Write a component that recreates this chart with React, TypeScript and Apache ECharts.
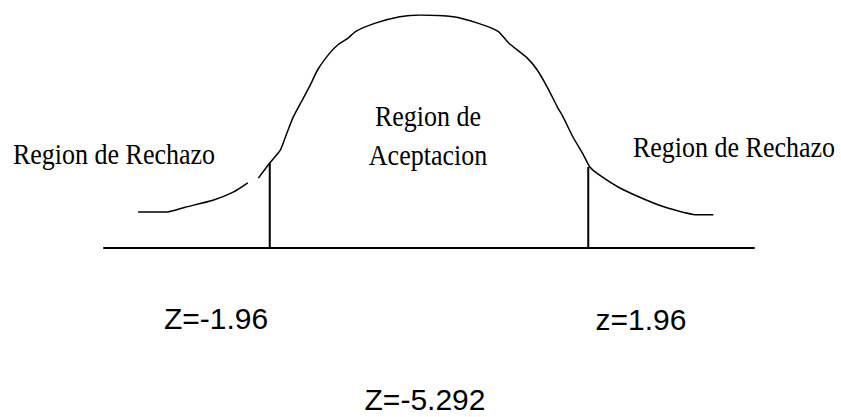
import React, { useEffect, useRef } from "react";
import * as echarts from "echarts";

// Curve: z value and relative height (peak = 0.4)
const curveZ = [
  -3.58, -3.22, -3.0, -2.66, -2.41, -2.23, null, -2.1, -1.96, -1.83, -1.75, -1.67,
  -1.56, -1.46, -1.37, -1.22, -1.12, -1.0, -0.9, -0.66, -0.36, -0.11, 0.3, 0.6,
  0.85, 0.98, 1.21, 1.33, 1.46, 1.58, 1.65, 1.77, 1.9, 1.98, 2.1, 2.35, 2.68,
  2.93, 3.3, 3.5,
];
const curveH = [
  0.062, 0.062, 0.07, 0.082, 0.096, 0.112, null, 0.12, 0.146, 0.168, 0.197, 0.225,
  0.254, 0.28, 0.306, 0.335, 0.349, 0.36, 0.372, 0.386, 0.397, 0.4, 0.397, 0.386,
  0.372, 0.352, 0.326, 0.306, 0.275, 0.242, 0.225, 0.191, 0.16, 0.139, 0.125,
  0.103, 0.082, 0.069, 0.057, 0.057,
];

// Critical values (vertical lines) and their heights on the curve
const criticalZ = [-1.96, 1.96];
const criticalH = [0.146, 0.139];

// Axis range
const axisMin = -4;
const axisMax = 4;

// Texts
const regionLabels = ["Region de Rechazo", "Region de", "Aceptacion", "Region de Rechazo"];
const zLabels = ["Z=-1.96", "z=1.96", "Z=-5.292"];

export default function App() {
  const ref = useRef<HTMLDivElement>(null);

  useEffect(() => {
    document.body.style.margin = "0";
    if (!ref.current) return;
    const chart = echarts.init(ref.current, undefined, { renderer: "svg" });

    const curveData = curveZ.map((z, i) =>
      z === null ? ["-", "-"] : [z, curveH[i]]
    );

    const serif = "'Liberation Serif', 'Times New Roman', serif";
    const sans = "'Liberation Sans', Arial, sans-serif";

    const serifText = (text: string, x: number, y: number, align: string) => ({
      type: "text",
      x,
      y,
      scaleY: 1.12,
      silent: true,
      style: {
        text,
        fill: "#000",
        font: `26px ${serif}`,
        align,
        verticalAlign: "middle",
      },
    });
    const sansText = (text: string, x: number, y: number) => ({
      type: "text",
      x,
      y,
      silent: true,
      style: {
        text,
        fill: "#000",
        font: `30px ${sans}`,
        align: "center",
        verticalAlign: "middle",
      },
    });

    chart.setOption({
      animation: false,
      backgroundColor: "#fff",
      grid: { left: 104, right: 87, top: 15, bottom: 169 },
      xAxis: {
        type: "value",
        min: axisMin,
        max: axisMax,
        axisLine: { show: true, onZero: true, lineStyle: { color: "#000", width: 2 } },
        axisTick: { show: false },
        axisLabel: { show: false },
        splitLine: { show: false },
      },
      yAxis: {
        type: "value",
        min: 0,
        max: 0.4,
        show: false,
        splitLine: { show: false },
      },
      series: [
        {
          type: "line",
          data: curveData,
          showSymbol: false,
          smooth: 0.2,
          connectNulls: false,
          lineStyle: { color: "#000", width: 1.5 },
          silent: true,
        },
        ...criticalZ.map((z, i) => ({
          type: "line",
          data: [
            [z, 0],
            [z, criticalH[i]],
          ],
          showSymbol: false,
          lineStyle: { color: "#000", width: 2 },
          silent: true,
        })),
      ],
      graphic: [
        serifText(regionLabels[0], 13, 154, "left"),
        serifText(regionLabels[1], 428, 116, "center"),
        serifText(regionLabels[2], 428, 155, "center"),
        serifText(regionLabels[3], 633, 147, "left"),
        sansText(zLabels[0], 216, 318),
        sansText(zLabels[1], 641, 319),
        sansText(zLabels[2], 425, 399),
      ],
    });

    return () => chart.dispose();
  }, []);

  return <div ref={ref} style={{ width: 841, height: 417 }} />;
}
